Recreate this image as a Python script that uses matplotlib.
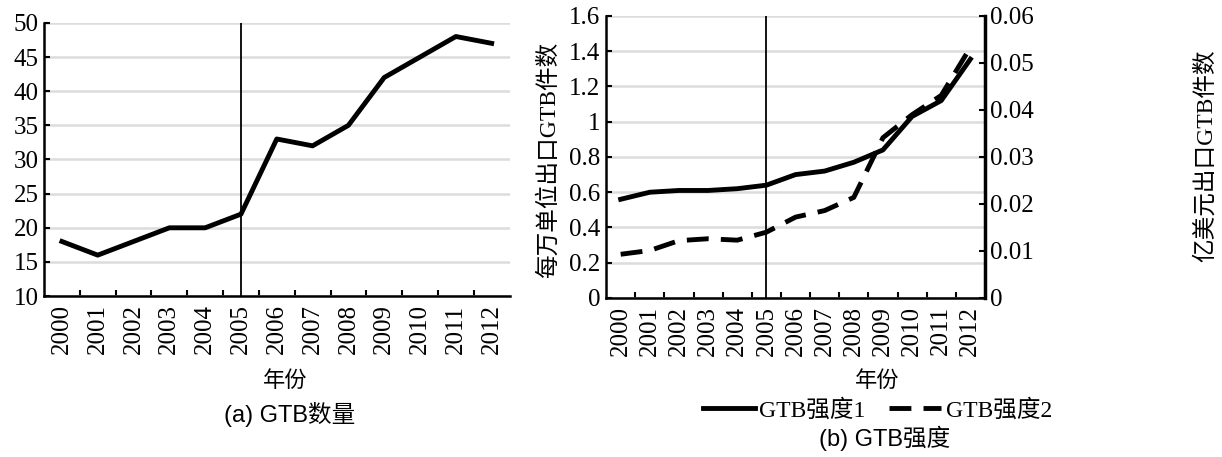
import matplotlib
matplotlib.use("Agg")
import matplotlib.pyplot as plt
from matplotlib.ticker import FuncFormatter

plt.rcParams['font.family'] = ['Liberation Serif', 'Noto Sans CJK SC']

years = ["2000", "2001", "2002", "2003", "2004", "2005", "2006",
         "2007", "2008", "2009", "2010", "2011", "2012"]
gtb_count = [18, 16, 18, 20, 20, 22, 33, 32, 35, 42, 45, 48, 47]
gtb_int1 = [0.56, 0.60, 0.61, 0.61, 0.62, 0.64, 0.70, 0.72, 0.77, 0.84, 1.03, 1.12, 1.355]
gtb_int2 = [0.0093, 0.0101, 0.0122, 0.0126, 0.0123, 0.0140, 0.0172, 0.0186, 0.0214,
            0.0341, 0.0390, 0.0431, 0.0533]
split_year = "2005"

fs = 18
grid_c = "#dcdcdc"
x = list(range(len(years)))
split_x = years.index(split_year)


def style_axis(ax):
    ax.set_xlim(-0.5, len(years) - 0.5)
    ax.set_xticks(x)
    ax.set_xticklabels(years, rotation=90, fontsize=fs)
    ax.tick_params(axis='x', which='major', length=0, pad=6)
    ax.set_xticks([i + 0.5 for i in range(len(years) - 1)], minor=True)
    ax.tick_params(axis='x', which='minor', direction='in', length=4, width=1.5)
    ax.tick_params(axis='y', direction='in', length=4, width=1.5, labelsize=fs, pad=4)
    ax.yaxis.grid(True, color=grid_c, linewidth=1.8)
    ax.set_axisbelow(True)
    for s in ['top', 'right']:
        ax.spines[s].set_visible(False)
    for s in ['left', 'bottom']:
        ax.spines[s].set_linewidth(1.8)
    ax.axvline(split_x, color='black', linewidth=1.3)


fig = plt.figure(figsize=(12.22, 4.57), dpi=100)

# (a) GTB数量
ax1 = fig.add_axes([0.036, 0.352, 0.381, 0.598])
ax1.plot(x, gtb_count, color='black', linewidth=3.5, solid_joinstyle='round')
ax1.set_ylim(10, 50)
ax1.set_yticks(range(10, 51, 5))
style_axis(ax1)

# (b) GTB强度
ax2 = fig.add_axes([0.496, 0.348, 0.310, 0.617])
ax2.plot(x, gtb_int1, color='black', linewidth=3.5, solid_joinstyle='round',
         label="GTB强度1")
ax2.set_ylim(0, 1.6)
ax2.set_yticks([0, 0.2, 0.4, 0.6, 0.8, 1.0, 1.2, 1.4, 1.6])
ax2.yaxis.set_major_formatter(FuncFormatter(lambda v, p: "%g" % round(v, 2)))
style_axis(ax2)

ax3 = ax2.twinx()
ax3.plot(x, gtb_int2, color='black', linewidth=3.5, linestyle=(0, (4.5, 2.5)),
         label="GTB强度2")
ax3.set_ylim(0, 0.06)
ax3.set_yticks([0, 0.01, 0.02, 0.03, 0.04, 0.05, 0.06])
ax3.yaxis.set_major_formatter(FuncFormatter(lambda v, p: "%g" % round(v, 3)))
ax3.tick_params(axis='y', direction='in', length=4, width=1.5, labelsize=fs, pad=4)
for s in ['top', 'left', 'bottom']:
    ax3.spines[s].set_visible(False)
ax3.spines['right'].set_linewidth(2.5)

fig.text(0.449, 0.65, "每万单位出口GTB件数", rotation=90, fontsize=17,
         ha='center', va='center')
fig.text(0.987, 0.66, "亿美元出口GTB件数", rotation=90, fontsize=17,
         ha='center', va='center')

fig.text(0.233, 0.166, "年份", fontsize=16, ha='center', va='center')
fig.text(0.718, 0.166, "年份", fontsize=16, ha='center', va='center')

fig.text(0.237, 0.094, "(a) GTB数量", fontsize=17, ha='center', va='center',
         family=['Liberation Sans', 'Noto Sans CJK SC'])
fig.text(0.724, 0.04, "(b) GTB强度", fontsize=17, ha='center', va='center',
         family=['Liberation Sans', 'Noto Sans CJK SC'])

h1, l1 = ax2.get_legend_handles_labels()
h2, l2 = ax3.get_legend_handles_labels()
fig.legend(h1 + h2, l1 + l2, loc='center', bbox_to_anchor=(0.718, 0.103), ncol=2,
           frameon=False, fontsize=17, handlelength=2.2, handletextpad=0.2,
           columnspacing=1.0, borderpad=0)

fig.savefig("out.png", dpi=100)
